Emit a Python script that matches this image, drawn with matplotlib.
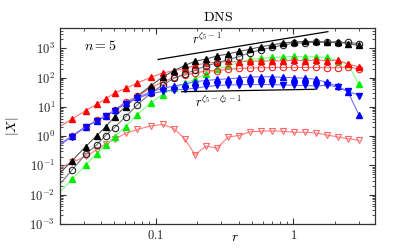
import numpy as np
import matplotlib
matplotlib.use('Agg')
import matplotlib.pyplot as plt
from matplotlib.ticker import FixedLocator, FuncFormatter, LogLocator, NullFormatter

plt.rcParams['mathtext.fontset'] = 'cm'
plt.rcParams['font.family'] = 'serif'
plt.rcParams['font.serif'] = ['DejaVu Serif']

# separation r (first value lies left of the axis, only the line shows)
r = [0.0157, 0.02467, 0.03093, 0.03717, 0.04319, 0.05021, 0.06036, 0.07352, 0.09167,
     0.1121, 0.1358, 0.1632, 0.1929, 0.2319, 0.2788, 0.3351, 0.4026, 0.4840,
     0.5816, 0.6992, 0.8404, 1.010, 1.214, 1.459, 1.754, 2.108, 2.492, 2.995]

black_tri = [0.016, 0.145, 0.436, 1.03, 2.05, 4.6, 10.1, 23.5, 51.5, 105, 172, 262, 360,
             431, 546, 638, 778, 925, 1135, 1297, 1517, 1641, 1707, 1707, 1641, 1641, 1450, 1250]
black_circ = [0.0059, 0.0698, 0.240, 0.499, 1.05, 1.97, 4.61, 11.6, 29.1, 55.8, 94.5, 133,
              181, 249, 315, 414, 517, 707, 896, 1065, 1297, 1482, 1541, 1603, 1603, 1553,
              1615, 1425]
red_tri = [1.04, 3.85, 7.39, 12.2, 18.6, 29.7, 42.4, 65.3, 101, 143, 172, 207, 259, 315,
           333, 354, 341, 368, 360, 377, 368, 398, 374, 398, 374, 389, 291, 230]
red_circ = [0.227, 1.0, 2.13, 3.42, 4.87, 7.81, 14.7, 22.6, 44.1, 70.7, 101, 122, 143, 168,
            174, 192, 204, 212, 216, 221, 221, 221, 221, 221, 216, 216, 235, 192]
green_tri = [0.00354, 0.0336, 0.103, 0.242, 0.498, 0.972, 2.10, 5.48, 13.5, 26.4, 43.0,
             63.8, 87.4, 133, 196, 249, 327, 414, 448, 485, 505, 525, 513, 513, 485, 368,
             291, 58.0]
blue_up = [0.234, 1.01, 2.10, 3.37, 4.87, 7.51, 13.9, 20.9, 32.2, 43.0, 51.6, 60.3, 72.3,
           79.5, 86.0, 90.8, 96.7, 105, 106, 107, 101, 99, 94.5, 87.4, 67.9, 49.6, 32.2, 5.27]
blue_down = [0.225, 0.972, 2.02, 3.24, 4.69, 7.22, 13.0, 19.3, 28.6, 33.5, 37.7, 39.8, 43.0,
             49.6, 53.6, 55.8, 56.7, 58.0, 58.0, 58.0, 55.8, 54.5, 53.6, 51.6, 55.0, 47.7,
             34.8, 24.4]
red_down = [0.049, 0.126, 0.202, 0.336, 0.539, 0.780, 1.25, 1.69, 2.22, 2.50, 1.82, 0.798,
            0.227, 0.460, 0.384, 0.935, 1.05, 1.42, 1.47, 1.52, 1.47, 1.36, 1.36, 1.28, 1.09,
            0.935, 0.818, 0.721]

# power-law guide lines: amplitude at r=1, exponent, r range
upper_amp, upper_exp, upper_r = 2370, 0.77, [0.104, 1.78]
lower_amp, lower_exp, lower_r = 38.6, 0.085, [0.1545, 1.435]

fig = plt.figure(figsize=(3.98, 2.49), dpi=100)
ax = fig.add_axes([0.1508, 0.1004, 0.7914, 0.7872])

ms = 4.0
lw = 0.8
ax.plot(r, red_down, 'v-', color='#ff8080', mfc='none', mec='#ff6666', ms=ms, lw=lw, mew=0.8)
ax.plot(r, green_tri, '^-', color='#80ff80', mfc='#00ee00', mec='#00ee00', ms=ms, lw=lw)
ax.plot(r, red_circ, 'o-', color='#ff7070', mfc='none', mec='#ff2020', ms=ms + 0.6, lw=lw, mew=0.8)
ax.plot(r, red_tri, '^-', color='#ff7070', mfc='#ff0000', mec='#ff0000', ms=ms, lw=lw)
ax.plot(r, black_circ, 'o-', color='#777777', mfc='none', mec='#222222', ms=ms + 0.6, lw=lw, mew=0.8)
ax.plot(r, black_tri, '^-', color='#555555', mfc='#000000', mec='#000000', ms=ms, lw=lw)
ax.plot(r, blue_up, '^-', color='#7070ff', mfc='#0000ff', mec='#0000ff', ms=ms, lw=lw)
ax.plot(r, blue_down, 'v-', color='#7070ff', mfc='#0000ff', mec='#0000ff', ms=ms, lw=lw)

ru = np.array(upper_r)
ax.plot(ru, upper_amp * ru ** upper_exp, color='black', lw=0.9)
rl = np.array(lower_r)
ax.plot(rl, lower_amp * rl ** lower_exp, color='black', lw=0.9)

ax.text(0.42, 0.92, r'$r^{\zeta_5-1}$', transform=ax.transAxes, fontsize=9)
ax.text(0.43, 0.595, r'$r^{\zeta_5-\zeta_2-1}$', transform=ax.transAxes, fontsize=9)
ax.text(0.075, 0.89, r'$n=5$', transform=ax.transAxes, fontsize=10)

ax.set_xscale('log')
ax.set_yscale('log')
ax.set_xlim(0.02018, 3.914)
ax.set_ylim(1e-3, 4930)

ax.xaxis.set_major_locator(FixedLocator([0.1, 1]))
ax.xaxis.set_major_formatter(FuncFormatter(lambda v, p: {0.1: '$0.1$', 1: '$1$'}.get(round(v, 3), '')))
ax.xaxis.set_minor_locator(LogLocator(base=10, subs=np.arange(2, 10)))
ax.xaxis.set_minor_formatter(NullFormatter())
ax.yaxis.set_major_locator(FixedLocator([1e-3, 1e-2, 1e-1, 1, 10, 100, 1000]))
ax.yaxis.set_major_formatter(FuncFormatter(lambda v, p: r'$10^{%d}$' % round(np.log10(v))))
ax.yaxis.set_minor_locator(LogLocator(base=10, subs=np.arange(2, 10)))
ax.yaxis.set_minor_formatter(NullFormatter())

ax.tick_params(which='both', direction='in', top=True, right=True, labelsize=9,
               colors='#333333', labelcolor='#222222')
ax.tick_params(which='major', length=4, width=0.8)
ax.tick_params(which='minor', length=2, width=0.6)
for s in ax.spines.values():
    s.set_color('#333333')
    s.set_linewidth(0.9)

ax.set_title(r'$\mathrm{DNS}$', fontsize=10, pad=5)
ax.set_xlabel(r'$r$', fontsize=10)
ax.xaxis.set_label_coords(0.556, -0.03)
ax.set_ylabel(r'$|X|$', fontsize=10)
ax.yaxis.set_label_coords(-0.125, 0.5)

fig.savefig('out.png', dpi=100)
